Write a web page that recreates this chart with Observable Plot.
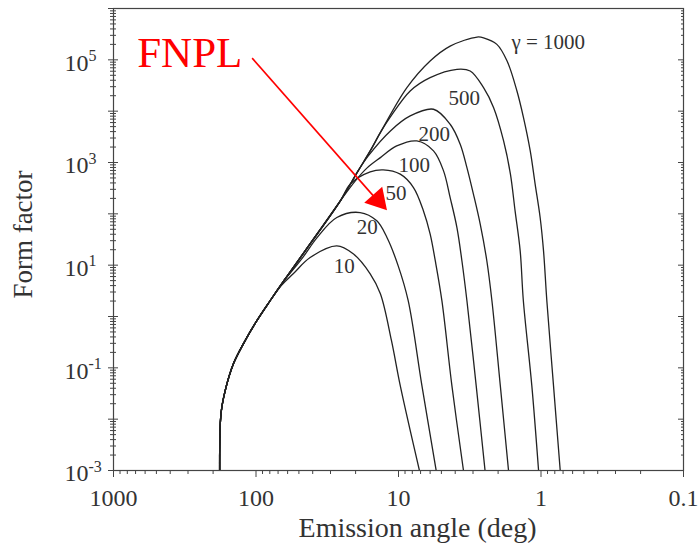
<!DOCTYPE html>
<html><head><meta charset="utf-8">
<script src="https://cdn.jsdelivr.net/npm/d3@7"></script>
<script src="https://cdn.jsdelivr.net/npm/@observablehq/plot@0.6"></script>
<style>body{margin:0;background:#fff}</style>
</head><body><div id="chart"></div>
<script>
// gamma values of the curves
const gammas = [10, 20, 50, 100, 200, 500, 1000];
// shared rising envelope [angle (deg), form factor]
const envelope = [[180,0.001],[176,0.0129],[164.5,0.036],[143.8,0.121],[122.4,0.296],[98.6,0.83],[79.4,2.05],[62.4,5.4],[45.2,19],[25.6,179],[19.2,687],[15.8,1683],[13.2,4120]];
// each curve after it leaves the envelope
const curve10 = [[66,4.1],[54.8,6.8],[41.7,14.1],[27.1,23.8],[20.8,16.7],[15.8,6.8],[13.4,2.78],[11.2,0.338],[9.72,0.045],[7.13,0.001]];
const curve20 = [[57.5,7.0],[46.6,14.5],[37.4,34],[27.1,84.7],[18.6,106],[14.2,73],[12.05,34.6],[10.05,9.7],[8.55,2.03],[6.85,0.045],[5.44,0.001]];
const curve50 = [[21.8,380],[15.8,656],[12.8,718],[9.72,592],[7.85,325],[6.68,114],[6.0,40.8],[5.52,12.2],[4.96,2.03],[4.22,0.045],[3.50,0.001]];
const curve100 = [[20.1,438],[16.6,785],[13.4,1245],[10.3,2100],[7.43,2630],[5.68,1683],[4.83,687],[4.34,207],[3.89,54],[3.59,12.2],[3.31,2.03],[2.85,0.045],[2.47,0.001]];
const curve200 = [[16.3,1343],[11.4,4120],[8.28,8070],[5.68,10900],[4.34,5560],[3.69,2270],[3.31,796],[2.98,242],[2.67,63],[2.40,12.2],[2.21,2.03],[1.93,0.045],[1.69,0.001]];
const curve500 = [[11.4,7710],[8.28,24700],[6.0,44900],[3.89,65300],[3.14,60500],[2.53,28650],[2.15,11700],[1.83,2630],[1.64,600],[1.52,114],[1.40,19],[1.33,2.03],[1.16,0.045],[1.04,0.001]];
const curve1000 = [[8.73,28650],[6.0,94800],[4.34,185000],[2.81,278000],[2.53,269000],[2.04,200000],[1.73,95000],[1.475,24700],[1.327,7480],[1.19,1683],[1.10,384],[1.014,84.7],[0.96,19],[0.91,2.03],[0.817,0.045],[0.733,0.001]];

// curve labels
const labelText = ["10","20","50","100","200","500","γ = 1000"];
const labelTheta = [24.0,16.6,10.4,7.76,5.61,3.46,0.889];
const labelF = [9.7,55.8,256,897,3600,18100,222000];

// axis ticks
const xMajor = [1000,100,10,1,0.1];
const yMajorExp = [-3,-2,-1,0,1,2,3,4,5,6];
const yLabelExp = [-3,-1,1,3,5];
const minorK = [2,3,4,5,6,7,8,9];

// annotation
const annText = ["FNPL"];
const annTheta = [682];
const annF = [136000];
const arrowLine = [{x1:106.4, y1:108000, x2:14.8, y2:214}];
const arrowHead = [{x:13.97, y:187}];

const own = {10:curve10, 20:curve20, 50:curve50, 100:curve100, 200:curve200, 500:curve500, 1000:curve1000};
const rows = [];
for (const g of gammas) {
  const c = own[g];
  const start = c[0][0];
  const pts = envelope.filter(p => p[0] > start * 1.02).concat(c);
  for (const [t, f] of pts) rows.push({gamma: g, theta: t, F: f});
}
const labels = labelText.map((t, i) => ({t, x: labelTheta[i], y: labelF[i]}));
const xMinor = [];
for (const e of [-1,0,1,2]) for (const k of minorK) xMinor.push(k * 10 ** e);
const yMajor = yMajorExp.map(e => 10 ** e);
const yMinor = [];
for (const e of [-3,-2,-1,0,1,2,3,4,5]) for (const k of minorK) yMinor.push(k * 10 ** e);
const ann = annText.map((t, i) => ({t, x: annTheta[i], y: annF[i]}));

const ink = "#333";
const plot = Plot.plot({
  width: 699, height: 548,
  marginLeft: 113, marginRight: 16, marginTop: 8, marginBottom: 78,
  style: {fontFamily: "'Liberation Serif', 'Times New Roman', serif", color: ink, background: "#fff", overflow: "visible"},
  x: {type: "log", domain: [1000, 0.1], label: null, axis: null},
  y: {type: "log", domain: [1e-3, 1e6], label: null, axis: null},
  marks: [
    Plot.frame({stroke: "#444", strokeWidth: 1.2}),
    // bottom ticks
    Plot.axisX(xMinor, {anchor: "bottom", tickSize: 4, tickFormat: () => "", label: null, stroke: "#444"}),
    Plot.axisX(xMajor, {anchor: "bottom", tickSize: 7, tickPadding: 11, tickFormat: d => String(d), fontSize: 24, fill: ink, label: null, stroke: "#444"}),
    // left ticks (crossing)
    Plot.axisY(yMinor, {anchor: "left", tickSize: 6, dx: 3, tickFormat: () => "", label: null, stroke: "#444"}),
    Plot.axisY(yMajor, {anchor: "left", tickSize: 10, dx: 5, tickFormat: () => "", label: null, stroke: "#444"}),
    // right ticks (inward)
    Plot.axisY(yMinor, {anchor: "right", tickSize: 3, dx: -3, tickFormat: () => "", label: null, stroke: "#444"}),
    Plot.axisY(yMajor, {anchor: "right", tickSize: 6, dx: -6, tickFormat: () => "", label: null, stroke: "#444"}),
    // y tick labels 10^n
    Plot.text(yLabelExp, {y: e => 10 ** e, text: () => "10", frameAnchor: "left", textAnchor: "end", dx: -25, dy: 3, fontSize: 24, fill: ink}),
    Plot.text(yLabelExp, {y: e => 10 ** e, text: e => String(e), frameAnchor: "left", textAnchor: "start", dx: -25, dy: -4, fontSize: 16, fill: ink}),
    // axis titles
    Plot.text(["Emission angle (deg)"], {frameAnchor: "bottom", lineAnchor: "middle", dy: 58, dx: 19, fontSize: 28, fill: ink}),
    Plot.text(["Form factor"], {frameAnchor: "left", textAnchor: "middle", lineAnchor: "middle", rotate: -90, dx: -90, dy: -5, fontSize: 27, fill: ink}),
    // curves
    Plot.line(rows, {x: "theta", y: "F", z: "gamma", stroke: "#222", strokeWidth: 1.3, curve: "catmull-rom", clip: true}),
    // curve labels
    Plot.text(labels, {x: "x", y: "y", text: "t", fontSize: 21, fill: ink}),
    // annotation
    Plot.text(ann, {x: "x", y: "y", text: "t", textAnchor: "start", fontSize: 43, fill: "#f00"}),
    Plot.link(arrowLine, {x1: "x1", y1: "y1", x2: "x2", y2: "y2", stroke: "#f00", strokeWidth: 1.6}),
    Plot.dot(arrowHead, {x: "x", y: "y", symbol: "triangle", r: 8.9, fill: "#f00", stroke: "none", rotate: 138.5})
  ]
});
document.getElementById("chart").appendChild(plot);
</script>
</body></html>
